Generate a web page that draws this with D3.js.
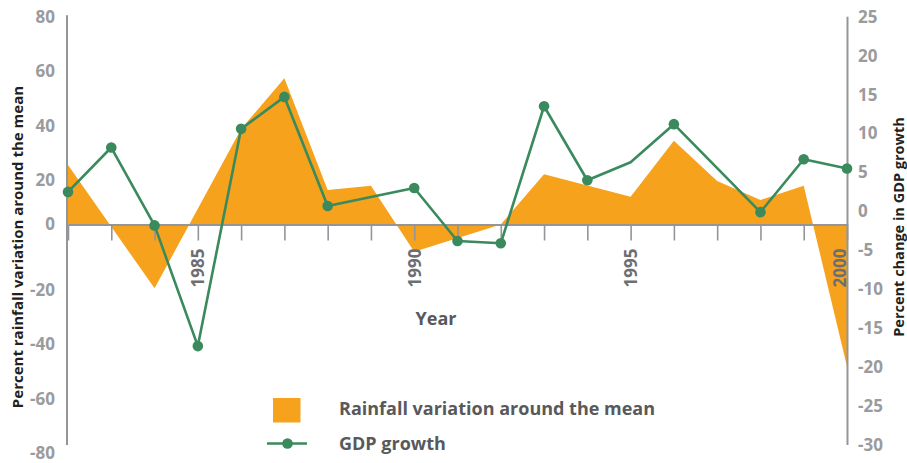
<!DOCTYPE html>
<html>
<head>
<meta charset="utf-8">
<script src="https://cdn.jsdelivr.net/npm/d3@7"></script>
<style>
  html, body { margin: 0; padding: 0; background: #ffffff; }
  svg { display: block; font-family: "Open Sans", "Noto Sans", sans-serif; }
</style>
</head>
<body>
<svg id="chart" width="907" height="463"></svg>
<script>
// ---- data ----
const rainYears  = [1982, 1984, 1986, 1987, 1988, 1989, 1990, 1992, 1993, 1995, 1996, 1997, 1998, 1999, 2000];
const rainValues = [25.5, -19.5, 38.7, 57.4, 15.5, 17.4, -8.3, 0, 22.1, 12.5, 34.4, 19.5, 11.0, 17.4, -48.2];

const gdpYears  = [1982, 1983, 1984, 1985, 1986, 1987, 1988, 1990, 1991, 1992, 1993, 1994, 1995, 1996, 1998, 1999, 2000];
const gdpValues = [2.5, 8.2, -1.8, -17.3, 10.6, 14.7, 0.7, 3.0, -3.8, -4.1, 13.5, 4.0, 6.3, 11.2, -0.1, 6.7, 5.5];
const gdpUnmarked = [1995];

const tickYears  = d3.range(1982, 2001);
const yearLabels = [1985, 1990, 1995, 2000];
const leftTicks  = [-80, -60, -40, -20, 0, 20, 40, 60, 80];
const rightTicks = [-30, -25, -20, -15, -10, -5, 0, 5, 10, 15, 20, 25];

const legendLabels = ["Rainfall variation around the mean", "GDP growth"];
const titles = {
  left: "Percent rainfall variation around the mean",
  right: "Percent change in GDP growth",
  x: "Year"
};

// ---- styles ----
const ORANGE = "#f6a21d";
const GREEN = "#3a8a5d";
const AXIS = "#939598";
const LABEL = "#9a9b9d";
const DARK = "#58595b";

const svg = d3.select("#chart");

// ---- scales ----
const x = d3.scaleLinear().domain([1982, 2000]).range([68, 847]);
const yL = d3.scaleLinear().domain([-80, -20, 0, 20, 80]).range([453, 290, 224.5, 180, 16.7]);
const yR = d3.scaleLinear().domain([-30, 25]).range([445, 16.7]);

const rain = rainYears.map((y, i) => ({ year: y, v: rainValues[i] }));
const gdp = gdpYears.map((y, i) => ({ year: y, v: gdpValues[i] }));

// ---- area ----
svg.append("path")
  .datum(rain)
  .attr("fill", ORANGE)
  .attr("d", d3.area().x(d => x(d.year)).y0(yL(0)).y1(d => yL(d.v)));

// ---- x axis ----
const xAxis = svg.append("g")
  .attr("transform", `translate(0,${yL(0)})`)
  .call(d3.axisBottom(x).tickValues(tickYears).tickSize(16).tickSizeOuter(0).tickFormat(""));
xAxis.select(".domain").attr("stroke", AXIS).attr("stroke-width", 2.2);
xAxis.selectAll(".tick line").attr("stroke", AXIS).attr("stroke-width", 1.6);

// year labels
svg.append("g").selectAll("text")
  .data(yearLabels)
  .join("text")
  .attr("transform", d => `translate(${Math.min(x(d), x.range()[1] - 7.5)},268) rotate(-90)`)
  .attr("text-anchor", "middle")
  .attr("dominant-baseline", "central")
  .attr("font-size", 17)
  .attr("font-weight", 700)
  .attr("fill", "#6d6e71")
  .text(d => d);

// ---- vertical axes ----
const fmt = d => String(d);
const leftAxis = svg.append("g")
  .attr("transform", `translate(${x.range()[0] - 1},0)`)
  .call(d3.axisLeft(yL).tickValues(leftTicks).tickSize(0).tickPadding(12).tickFormat(fmt));
leftAxis.select(".domain").remove();
leftAxis.selectAll("text").attr("font-size", 17).attr("font-weight", 700).attr("fill", LABEL)
  .attr("font-family", "'Open Sans', sans-serif");
svg.append("line")
  .attr("x1", x.range()[0] - 1).attr("x2", x.range()[0] - 1)
  .attr("y1", yR.range()[1] - 1.5).attr("y2", yR.range()[0])
  .attr("stroke", AXIS).attr("stroke-width", 2);

const rightAxis = svg.append("g")
  .attr("transform", `translate(${x.range()[1]},0)`)
  .call(d3.axisRight(yR).tickValues(rightTicks).tickSize(0).tickPadding(11).tickFormat(fmt));
rightAxis.select(".domain").remove();
rightAxis.selectAll("text").attr("font-size", 17).attr("font-weight", 700).attr("fill", LABEL)
  .attr("font-family", "'Open Sans', sans-serif");
svg.append("line")
  .attr("x1", x.range()[1] + 0.5).attr("x2", x.range()[1] + 0.5)
  .attr("y1", yR.range()[1]).attr("y2", yR.range()[0])
  .attr("stroke", AXIS).attr("stroke-width", 2);

// ---- titles ----
svg.append("text")
  .attr("transform", `translate(17,247) rotate(-90)`)
  .attr("text-anchor", "middle").attr("dominant-baseline", "central")
  .attr("font-size", 15).attr("font-weight", 700).attr("fill", "#231f20")
  .text(titles.left);
svg.append("text")
  .attr("transform", `translate(898,227) rotate(-90)`)
  .attr("text-anchor", "middle").attr("dominant-baseline", "central")
  .attr("font-size", 14.5).attr("font-weight", 700).attr("fill", "#231f20")
  .text(titles.right);
svg.append("text")
  .attr("x", 436).attr("y", 325)
  .attr("text-anchor", "middle")
  .attr("font-size", 18).attr("font-weight", 700).attr("fill", DARK)
  .text(titles.x);

// ---- GDP line ----
svg.append("path")
  .datum(gdp)
  .attr("fill", "none")
  .attr("stroke", GREEN)
  .attr("stroke-width", 2.6)
  .attr("stroke-linejoin", "round")
  .attr("d", d3.line().x(d => x(d.year)).y(d => yR(d.v)));

svg.append("g").selectAll("circle")
  .data(gdp.filter(d => !gdpUnmarked.includes(d.year)))
  .join("circle")
  .attr("cx", d => x(d.year))
  .attr("cy", d => yR(d.v))
  .attr("r", 5.3)
  .attr("fill", GREEN);

// ---- legend ----
const lg = svg.append("g");
lg.append("rect").attr("x", 273).attr("y", 398).attr("width", 27.5).attr("height", 24.5).attr("fill", ORANGE);
lg.append("line").attr("x1", 267).attr("x2", 307).attr("y1", 443.5).attr("y2", 443.5)
  .attr("stroke", GREEN).attr("stroke-width", 2.6);
lg.append("circle").attr("cx", 287.5).attr("cy", 443.5).attr("r", 5.3).attr("fill", GREEN);
lg.selectAll("text")
  .data(legendLabels)
  .join("text")
  .attr("x", 339)
  .attr("y", (d, i) => i === 0 ? 408 : 443)
  .attr("dominant-baseline", "central")
  .attr("font-size", 18).attr("font-weight", 700).attr("fill", DARK)
  .text(d => d);
</script>
</body>
</html>
